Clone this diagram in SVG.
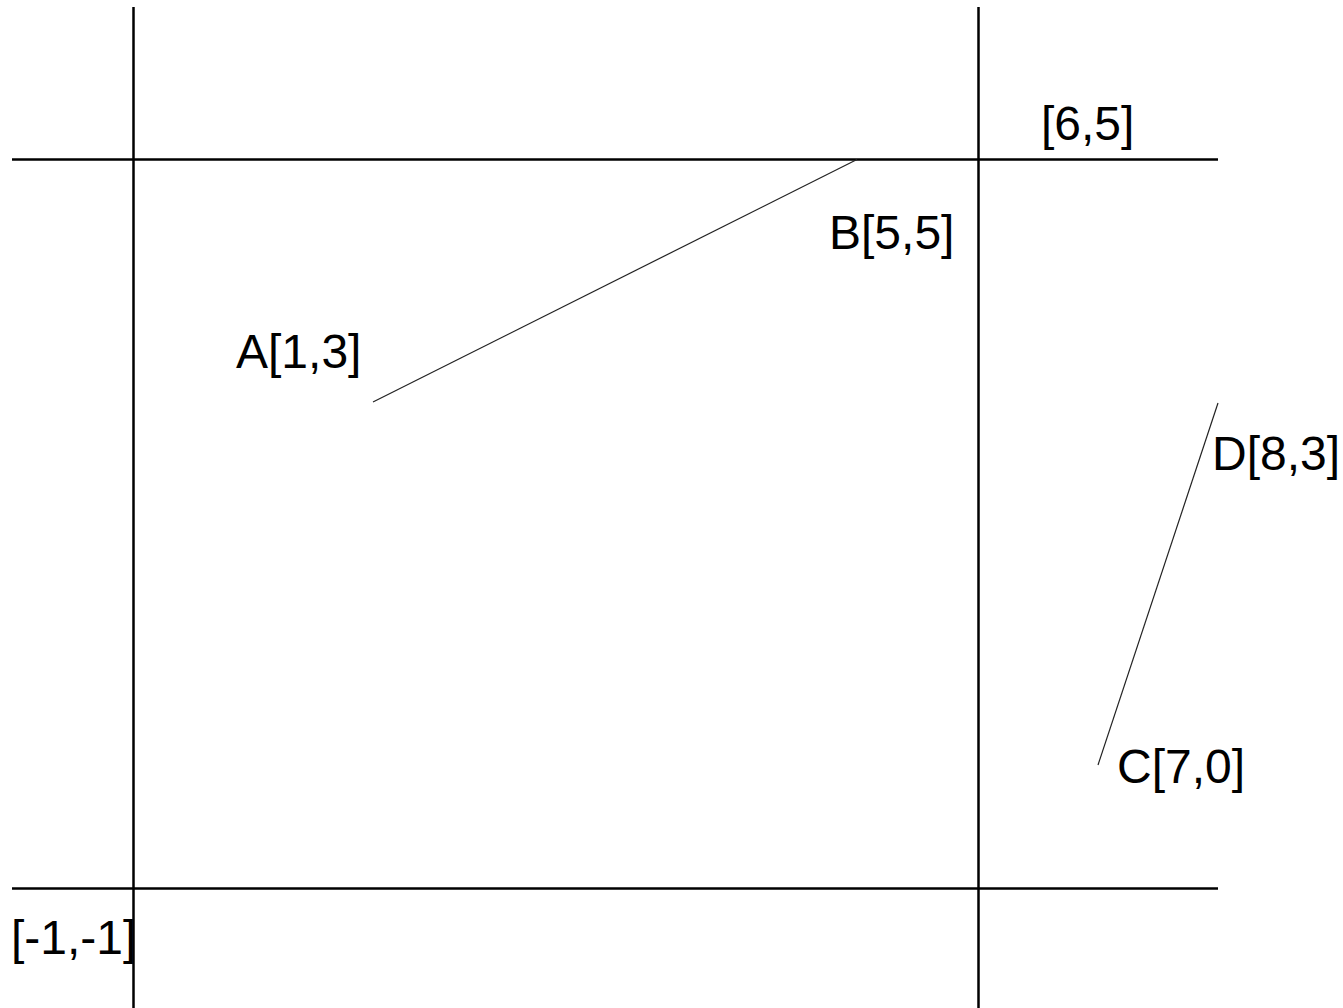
<svg xmlns="http://www.w3.org/2000/svg" width="1343" height="1008" viewBox="0 0 1343 1008">
<style>
.axis{stroke:#000;stroke-width:2.5;fill:none}
.seg{stroke:#222;stroke-width:1.2;fill:none}
.lbl{font-family:"Liberation Sans",Arial,sans-serif;font-size:48px;fill:#000}
</style>
<rect width="1343" height="1008" fill="#fff"/>
<g id="connectors">
<line class="axis" x1="133.5" y1="7" x2="133.5" y2="1008"/>
<line class="axis" x1="978.5" y1="7" x2="978.5" y2="1008"/>
<line class="axis" x1="12" y1="159.5" x2="1218" y2="159.5"/>
<line class="axis" x1="12" y1="888.5" x2="1218" y2="888.5"/>
<line class="seg" x1="373" y1="402" x2="857" y2="159.5"/>
<line class="seg" x1="1098" y1="765" x2="1218" y2="403"/>
</g>
<g id="label-65"><text class="lbl" x="1041" y="140">[6,5]</text></g>
<g id="label-B"><text class="lbl" x="829" y="249">B[5,5]</text></g>
<g id="label-A"><text class="lbl" x="236" y="368">A[1,3]</text></g>
<g id="label-D"><text class="lbl" x="1212" y="470">D[8,3]</text></g>
<g id="label-C"><text class="lbl" x="1117" y="783">C[7,0]</text></g>
<g id="label-m1"><text class="lbl" x="11" y="954">[-1,-1]</text></g>
</svg>
